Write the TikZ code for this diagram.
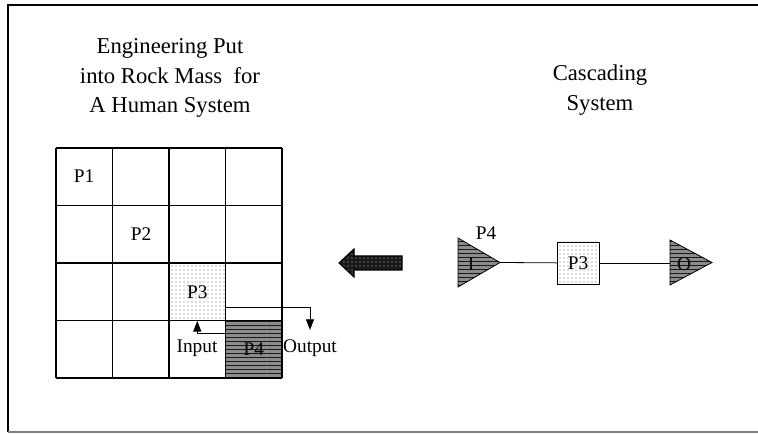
\documentclass[tikz,border=0pt]{standalone}
\usepackage{fontspec}
\setmainfont{Liberation Serif}
\usetikzlibrary{arrows.meta,positioning,patterns,calc}

\begin{document}
\begin{tikzpicture}[x=0.75pt,y=-0.75pt,
    title/.style={align=center,font=\fontsize{17}{22}\selectfont},
    lbl/.style={font=\fontsize{14.5}{16}\selectfont,inner sep=1pt},
    dotcell/.style={draw,line width=0.6pt,pattern=dots,pattern color=black!60,font=\fontsize{14.5}{16}\selectfont,inner sep=0},
    hatchcell/.style={line width=0.6pt,preaction={fill=black!45},pattern=horizontal lines,pattern color=black!90,font=\fontsize{14.5}{16}\selectfont,inner sep=0},
    wire/.style={line width=0.6pt},
    arr/.style={wire,-{Triangle[length=8pt,width=6pt]}}]
    \useasboundingbox (0,0) rectangle (758,434);
    \draw[line width=1pt] (758,5) -- (8,5) -- (8,432);
    \draw[gray,line width=0.8pt] (8,432) -- (758,432);

    \node[title] (lefttitle) at (170,78) {Engineering Put\\into Rock Mass\ \ for\\A Human System};
    \node[title] (righttitle) at (600,90) {Cascading\\System};

    \node[dotcell,draw=none,minimum width=42.4pt,minimum height=43.1pt] (p3) at (197.25,291.75) {P3};
    \node[hatchcell,minimum width=42.4pt,minimum height=43.1pt] (p4) at (253.75,349.25) {P4};
    \foreach \i in {0,...,4} {
        \draw[line width=0.9pt] ({56+56.5*\i},148) -- ({56+56.5*\i},378);
        \draw[line width=0.9pt] (56,{148+57.5*\i}) -- (282,{148+57.5*\i});
    }
    \node[lbl] (p1) at (84,176) {P1};
    \node[lbl] (p2) at (141,234) {P2};

    \node[lbl] (inlbl) at (197,348) {Input};
    \node[lbl] (outlbl) at (310,348) {Output};
    \coordinate (inknee) at (195,333);
    \coordinate (outknee) at (310,307);
    \draw[arr] (p4.west |- inknee) -| (p3.south);
    \draw[arr,shorten >=6pt] (p3.east |- outknee) -| (outlbl.north);

    \path[draw,line width=0.8pt,preaction={fill=black!90},pattern=dots,pattern color=gray!60]
        (402,256) -- (354,256) -- (354,249) -- (339,263) -- (354,277) -- (354,270) -- (402,270) -- cycle;

    \path[draw,hatchcell] (458,238) -- (500,262.5) coordinate (itip) -- (458,287) -- cycle;
    \node[lbl] (ilbl) at (471,264) {I};
    \node[lbl] (p4lbl) at (486,233) {P4};
    \node[dotcell,minimum size=31.5pt] (p3b) at (578,263) {P3};
    \path[draw,hatchcell] (670,240) coordinate (obase) -- (712,262.5) -- (670,285) -- cycle;
    \node[lbl] (olbl) at (684,264) {O};
    \draw[wire] (itip) -- (p3b);
    \draw[wire] (p3b) -- (obase |- p3b);
\end{tikzpicture}
\end{document}
